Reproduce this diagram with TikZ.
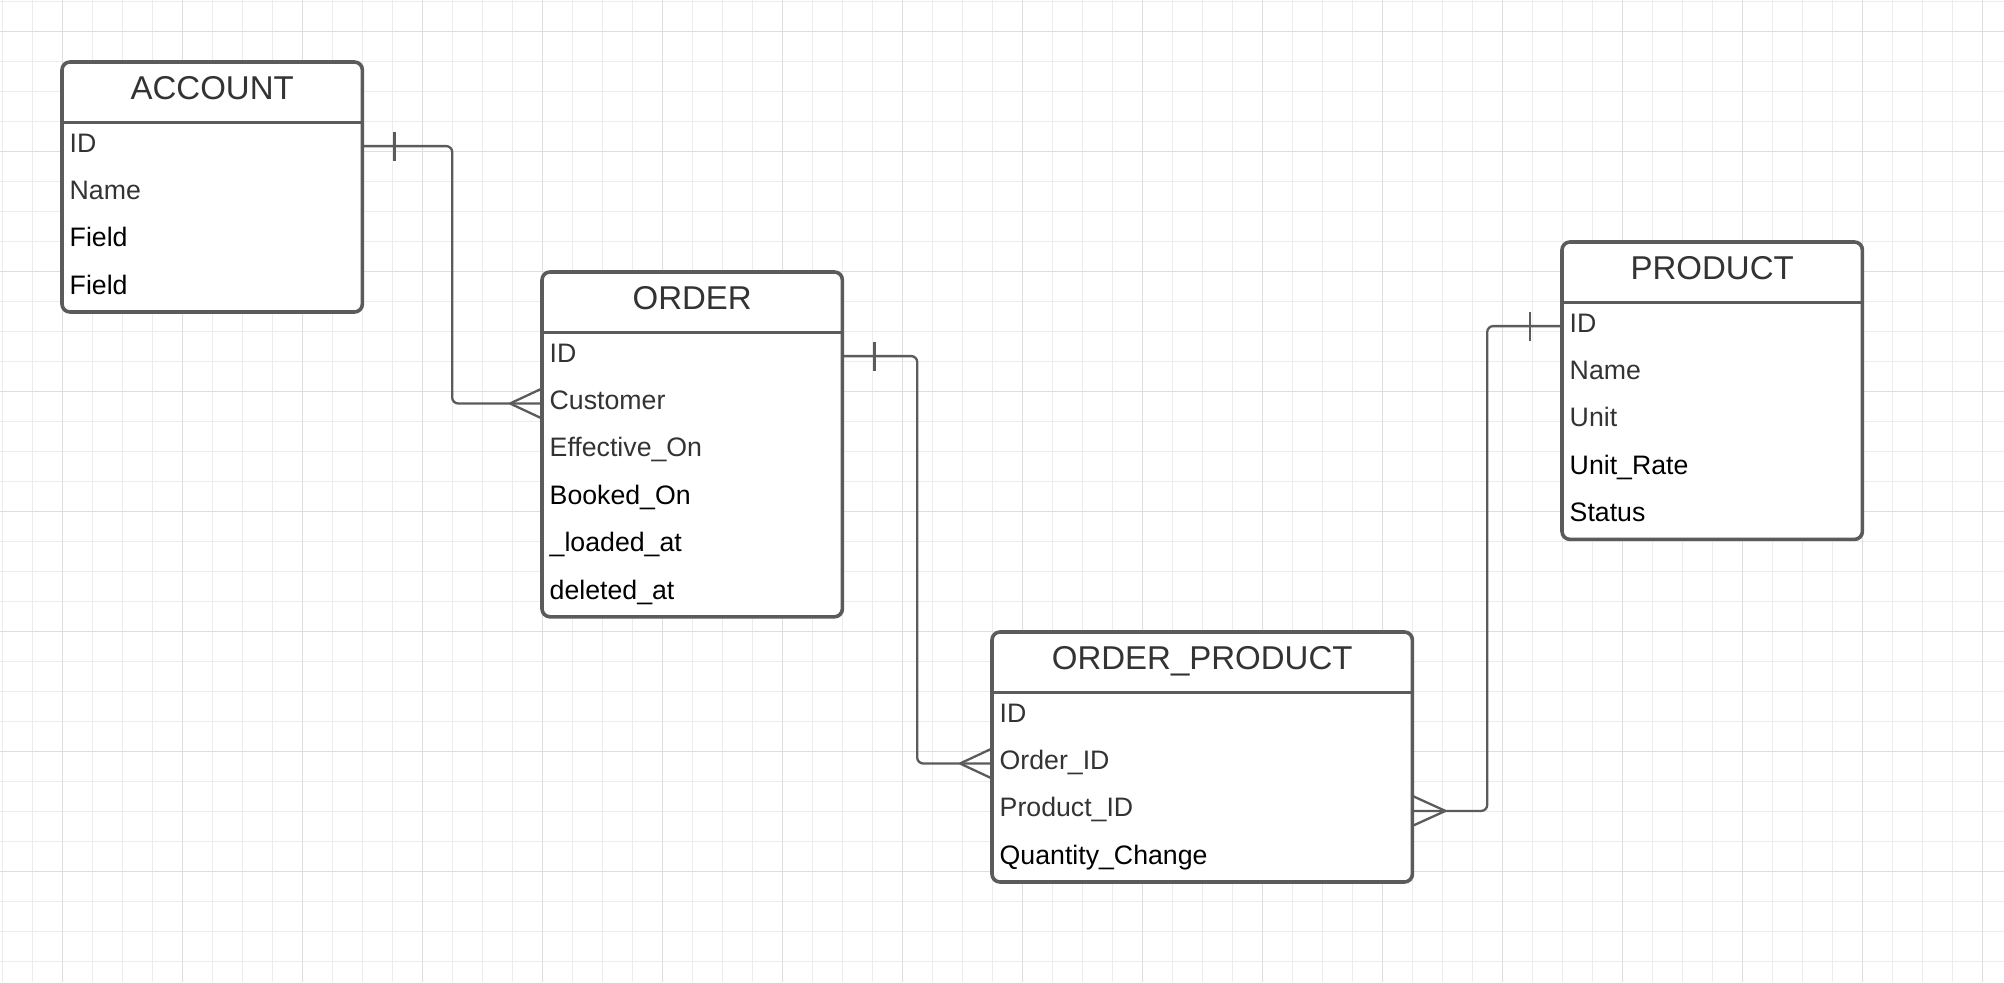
\documentclass[tikz,border=0pt]{standalone}
\usepackage{fontspec}
\setmainfont{Liberation Sans}
\usetikzlibrary{calc}
\pgfdeclarelayer{bg}
\pgfsetlayers{bg,main}
\definecolor{lc}{HTML}{5B5B5B}
\definecolor{tg}{HTML}{333333}
\definecolor{gminor}{HTML}{ECECEC}
\definecolor{gmajor}{HTML}{DEDEDE}
\begin{document}
\begin{tikzpicture}[x=1pt,y=-1pt,
  hdr/.style={minimum width=#1, minimum height=60pt, inner sep=0pt, text height=23pt, text depth=9pt, font=\fontsize{33}{36}\selectfont, text=tg, anchor=north west},
  fld/.style={text width=#1, align=left, inner xsep=7.5pt, inner ysep=0pt, minimum height=47pt, text height=19pt, text depth=7pt, font=\fontsize{26.7}{30}\selectfont, anchor=north west},
  fg/.style={fld=#1, text=tg},
  fk/.style={fld=#1, text=black},
  box/.style={draw=lc, line width=3.6pt, rounded corners=8pt},
  divider/.style={draw=lc, line width=3.2pt},
  conn/.style={draw=lc, line width=2.3pt},
  route/.style={conn, rounded corners=6pt},
  gmin/.style={draw=gminor, line width=1pt},
  gmaj/.style={draw=gmajor, line width=1.4pt},
]
\useasboundingbox (0,0) rectangle (2004,982);
\begin{pgfonlayer}{bg}
  \fill[white] (0,0) rectangle (2004,982);
  \foreach \i in {0,...,66} \draw[gmin] (2.7+30*\i,0) -- (2.7+30*\i,982);
  \foreach \i in {0,...,32} \draw[gmin] (0,1.7+30*\i) -- (2004,1.7+30*\i);
  \foreach \i in {0,...,16} \draw[gmaj] (62.7+120*\i,0) -- (62.7+120*\i,982);
  \foreach \i in {0,...,8} \draw[gmaj] (0,31.7+120*\i) -- (2004,31.7+120*\i);
\end{pgfonlayer}

% ACCOUNT
\node[hdr=300pt] (acc) at (62,62) {ACCOUNT};
\node[fg=285pt] (acc-1) at (acc.south west) {ID};
\node[fg=285pt] (acc-2) at (acc-1.south west) {Name};
\node[fk=285pt] (acc-3) at (acc-2.south west) {Field};
\node[fk=285pt] (acc-4) at (acc-3.south west) {Field};

% ORDER
\node[hdr=300pt] (ord) at (542,272) {ORDER};
\node[fg=285pt] (ord-1) at (ord.south west) {ID};
\node[fg=285pt] (ord-2) at (ord-1.south west) {Customer};
\node[fg=285pt] (ord-3) at (ord-2.south west) {Effective\_On};
\node[fk=285pt] (ord-4) at (ord-3.south west) {Booked\_On};
\node[fk=285pt] (ord-5) at (ord-4.south west) {\_loaded\_at};
\node[fk=285pt] (ord-6) at (ord-5.south west) {deleted\_at};

% ORDER_PRODUCT
\node[hdr=420pt] (op) at (992,632) {ORDER\_PRODUCT};
\node[fg=405pt] (op-1) at (op.south west) {ID};
\node[fg=405pt] (op-2) at (op-1.south west) {Order\_ID};
\node[fg=405pt] (op-3) at (op-2.south west) {Product\_ID};
\node[fk=405pt] (op-4) at (op-3.south west) {Quantity\_Change};

% PRODUCT
\node[hdr=300pt] (prd) at (1562,242) {PRODUCT};
\node[fg=285pt] (prd-1) at (prd.south west) {ID};
\node[fg=285pt] (prd-2) at (prd-1.south west) {Name};
\node[fg=285pt] (prd-3) at (prd-2.south west) {Unit};
\node[fk=285pt] (prd-4) at (prd-3.south west) {Unit\_Rate};
\node[fk=285pt] (prd-5) at (prd-4.south west) {Status};

\begin{pgfonlayer}{bg}
  \fill[white, rounded corners=8pt] (acc.north west) rectangle (acc-4.south east);
  \fill[white, rounded corners=8pt] (ord.north west) rectangle (ord-6.south east);
  \fill[white, rounded corners=8pt] (op.north west) rectangle (op-4.south east);
  \fill[white, rounded corners=8pt] (prd.north west) rectangle (prd-5.south east);
\end{pgfonlayer}

% connectors
\coordinate (m1) at ($(acc-1.east)!.5!(ord-2.west)$);
\draw[route] (acc-1.east) -- (acc-1.east -| m1) -- (ord-2.west -| m1) -- (ord-2.west);
\draw[conn] ($(acc-1.east)+(32,-14.5)$) -- ($(acc-1.east)+(32,14.5)$);
\draw[conn] ($(ord-2.west)+(-32,0)$) -- ($(ord-2.west)+(0,-15)$);
\draw[conn] ($(ord-2.west)+(-32,0)$) -- ($(ord-2.west)+(0,15)$);

\coordinate (m2) at ($(ord-1.east)!.5!(op-2.west)$);
\draw[route] (ord-1.east) -- (ord-1.east -| m2) -- (op-2.west -| m2) -- (op-2.west);
\draw[conn] ($(ord-1.east)+(32,-14.5)$) -- ($(ord-1.east)+(32,14.5)$);
\draw[conn] ($(op-2.west)+(-32,0)$) -- ($(op-2.west)+(0,-15)$);
\draw[conn] ($(op-2.west)+(-32,0)$) -- ($(op-2.west)+(0,15)$);

\coordinate (m3) at ($(op-3.east)!.5!(prd-1.west)$);
\draw[route] (op-3.east) -- (op-3.east -| m3) -- (prd-1.west -| m3) -- (prd-1.west);
\draw[conn] ($(prd-1.west)+(-32,-14.5)$) -- ($(prd-1.west)+(-32,14.5)$);
\draw[conn] ($(op-3.east)+(33,0)$) -- ($(op-3.east)+(0,-15)$);
\draw[conn] ($(op-3.east)+(33,0)$) -- ($(op-3.east)+(0,15)$);

% boxes
\draw[box] (acc.north west) rectangle (acc-4.south east);
\draw[divider] (acc.south west) -- (acc.south east);
\draw[box] (ord.north west) rectangle (ord-6.south east);
\draw[divider] (ord.south west) -- (ord.south east);
\draw[box] (op.north west) rectangle (op-4.south east);
\draw[divider] (op.south west) -- (op.south east);
\draw[box] (prd.north west) rectangle (prd-5.south east);
\draw[divider] (prd.south west) -- (prd.south east);
\end{tikzpicture}
\end{document}
